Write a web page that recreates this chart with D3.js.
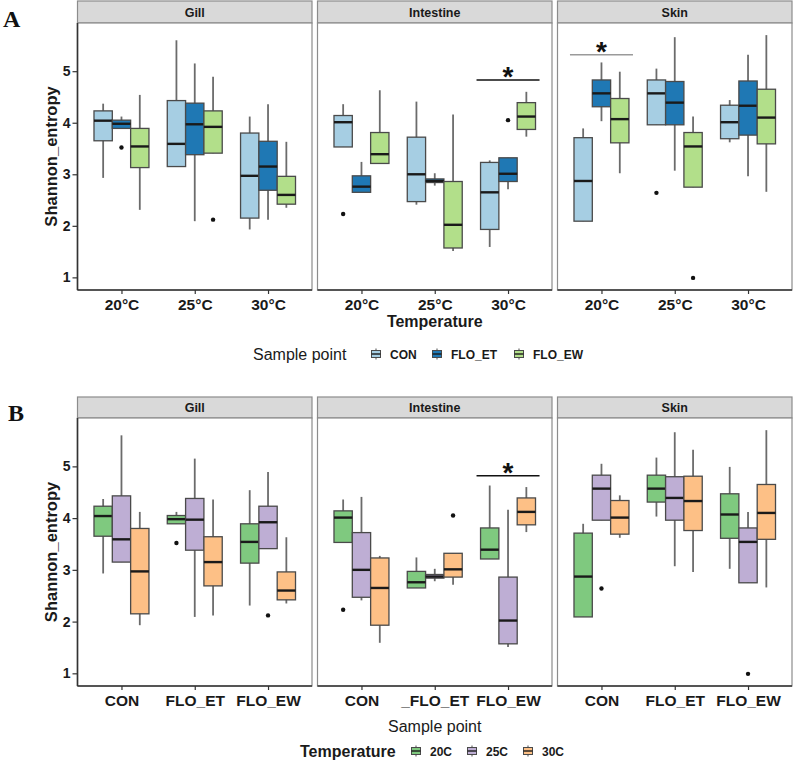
<!DOCTYPE html>
<html>
<head>
<meta charset="utf-8">
<script src="https://cdn.jsdelivr.net/npm/d3@7"></script>
<style>
body { margin: 0; background: #fff; }
svg { display: block; font-family: "Liberation Sans", Arial, sans-serif; }
</style>
</head>
<body>
<div id="chart"></div>
<script>
var tissues = ["Gill", "Intestine", "Skin"];
var temps = ["20°C", "25°C", "30°C"];
var tempKeys = ["20C", "25C", "30C"];
var samples = ["CON", "FLO_ET", "FLO_EW"];
var sampleTicksB = [["CON", "FLO_ET", "FLO_EW"], ["CON", "_FLO_ET", "FLO_EW"], ["CON", "FLO_ET", "FLO_EW"]];
var yTicks = [1, 2, 3, 4, 5];

// [lower whisker, Q1, median, Q3, upper whisker], indexed [temperature][sample point]
var gillStats = [
  [[2.93, 3.65, 4.04, 4.23, 4.37], [3.89, 3.89, 3.98, 4.05, 4.12], [2.31, 3.13, 3.54, 3.89, 4.54]],
  [[3.15, 3.15, 3.59, 4.43, 5.60], [2.09, 3.38, 3.97, 4.38, 5.15], [3.41, 3.41, 3.92, 4.23, 4.89]],
  [[1.93, 2.15, 2.97, 3.80, 4.12], [2.12, 2.69, 3.15, 3.64, 4.36], [2.35, 2.42, 2.60, 2.96, 3.63]]
];
var intestineStats = [
  [[3.53, 3.53, 4.01, 4.14, 4.36], [2.65, 2.65, 2.76, 2.97, 3.24], [3.21, 3.21, 3.39, 3.81, 4.63]],
  [[2.41, 2.47, 3.00, 3.72, 4.41], [2.78, 2.84, 2.87, 2.91, 3.02], [1.51, 1.57, 2.02, 2.86, 4.16]],
  [[1.59, 1.93, 2.65, 3.23, 3.27], [2.71, 2.86, 3.01, 3.32, 3.32], [3.73, 3.87, 4.12, 4.39, 4.60]]
];
var skinStats = [
  [[2.09, 2.09, 2.87, 3.71, 3.89], [4.03, 4.31, 4.57, 4.83, 5.17], [3.02, 3.61, 4.07, 4.47, 4.99]],
  [[3.96, 3.96, 4.57, 4.83, 5.05], [3.07, 3.96, 4.39, 4.80, 5.66], [2.75, 2.75, 3.54, 3.81, 4.12]],
  [[3.62, 3.69, 4.01, 4.34, 4.44], [2.96, 3.76, 4.33, 4.81, 5.32], [2.66, 3.59, 4.10, 4.65, 5.70]]
];
var allStats = [gillStats, intestineStats, skinStats];

// outliers: [temperature index, sample index, value]
var gillOutliers = [[0, 1, 3.52], [1, 2, 2.12]];
var intestineOutliers = [[0, 0, 2.23], [2, 1, 4.05]];
var skinOutliers = [[1, 0, 2.64], [1, 2, 0.99]];
var allOutliers = [gillOutliers, intestineOutliers, skinOutliers];

// significance bars: tissue index, category index on x, height
var sigA = [{ tissue: 1, cat: 2, value: 4.83, color: "#111" }, { tissue: 2, cat: 0, value: 5.32, color: "#9a9a9a" }];
var sigB = [{ tissue: 1, cat: 2, value: 4.82, color: "#111" }];

var sampleColors = ["#a6cee3", "#1f78b4", "#b2df8a"];
var tempColors = ["#7fc97f", "#beaed4", "#fdc086"];

var width = 796, height = 764;
var panelLeft = 77.5, panelW = 234.5, panelGap = 5.5;

var svg = d3.select("#chart").append("svg")
  .attr("width", width)
  .attr("height", height);

function drawRow(opt) {
  var y = d3.scaleLinear().domain([0.755, 5.935]).range([opt.bottom, opt.top]);

  tissues.forEach(function(tissue, t) {
    var left = panelLeft + t * (panelW + panelGap);
    var g = svg.append("g").attr("transform", "translate(" + left + ",0)");
    var x = d3.scalePoint().domain([0, 1, 2]).range([0, panelW]).padding(0.6);
    var step = x.step();
    var inner = d3.scaleBand().domain([0, 1, 2]).range([-0.375 * step, 0.375 * step]);
    var bw = inner.bandwidth();

    // strip
    g.append("rect")
      .attr("x", 0).attr("y", opt.stripTop)
      .attr("width", panelW).attr("height", opt.top - opt.stripTop)
      .attr("fill", "#d9d9d9").attr("stroke", "#8c8c8c").attr("stroke-width", 1.2);
    g.append("text")
      .attr("x", panelW / 2).attr("y", (opt.stripTop + opt.top) / 2 + 4.5)
      .attr("text-anchor", "middle")
      .attr("font-size", 12.5).attr("font-weight", "bold").attr("fill", "#1a1a1a")
      .text(tissue);

    // panel
    g.append("rect")
      .attr("x", 0).attr("y", opt.top)
      .attr("width", panelW).attr("height", opt.bottom - opt.top)
      .attr("fill", "#fff").attr("stroke", "#8c8c8c").attr("stroke-width", 1.2);

    var boxes = [];
    [0, 1, 2].forEach(function(xi) {
      [0, 1, 2].forEach(function(gi) {
        boxes.push({ xi: xi, gi: gi, s: opt.stat(t, xi, gi) });
      });
    });

    var bg = g.selectAll(".box")
      .data(boxes)
      .enter().append("g")
      .attr("class", "box")
      .attr("transform", function(d) { return "translate(" + (x(d.xi) + inner(d.gi)) + ",0)"; });

    bg.append("line")
      .attr("x1", bw / 2).attr("x2", bw / 2)
      .attr("y1", function(d) { return y(d.s[0]); })
      .attr("y2", function(d) { return y(d.s[4]); })
      .attr("stroke", "#6b6b6b").attr("stroke-width", 1.8);
    bg.append("rect")
      .attr("x", 0).attr("width", bw)
      .attr("y", function(d) { return y(d.s[3]); })
      .attr("height", function(d) { return y(d.s[1]) - y(d.s[3]); })
      .attr("fill", function(d) { return opt.colors[d.gi]; })
      .attr("stroke", "#4a4a4a").attr("stroke-width", 1.3);
    bg.append("line")
      .attr("x1", 0).attr("x2", bw)
      .attr("y1", function(d) { return y(d.s[2]); })
      .attr("y2", function(d) { return y(d.s[2]); })
      .attr("stroke", "#1a1a1a").attr("stroke-width", 2.4);

    // outliers
    g.selectAll(".out")
      .data(allOutliers[t])
      .enter().append("circle")
      .attr("class", "out")
      .attr("cx", function(d) {
        var xi = opt.byTemp ? d[0] : d[1];
        var gi = opt.byTemp ? d[1] : d[0];
        return x(xi) + inner(gi) + bw / 2;
      })
      .attr("cy", function(d) { return y(d[2]); })
      .attr("r", 2.2)
      .attr("fill", "#111");

    // x axis
    var xa = g.append("g")
      .attr("transform", "translate(0," + opt.bottom + ")")
      .call(d3.axisBottom(x).tickSize(4).tickPadding(5)
        .tickFormat(function(i) { return opt.xLabels[t][i]; }));
    xa.select(".domain").remove();
    xa.selectAll(".tick line").attr("stroke", "#333").attr("stroke-width", 1.2);
    xa.selectAll(".tick text")
      .attr("font-size", 15.5).attr("font-weight", "bold").attr("fill", "#1a1a1a")
      .attr("font-family", "Liberation Sans, Arial, sans-serif");
    g.append("line")
      .attr("x1", 0).attr("x2", panelW)
      .attr("y1", opt.bottom).attr("y2", opt.bottom)
      .attr("stroke", "#333").attr("stroke-width", 1.6);

    if (t === 0) {
      var ya = g.append("g")
        .call(d3.axisLeft(y).tickValues(yTicks).tickSize(5).tickPadding(2).tickFormat(d3.format("d")));
      ya.select(".domain").remove();
      ya.selectAll(".tick line").attr("stroke", "#333").attr("stroke-width", 1.2);
      ya.selectAll(".tick text")
        .attr("font-size", 14).attr("font-weight", "bold").attr("fill", "#1a1a1a")
        .attr("font-family", "Liberation Sans, Arial, sans-serif");
      g.append("line")
        .attr("x1", 0).attr("x2", 0)
        .attr("y1", opt.top).attr("y2", opt.bottom)
        .attr("stroke", "#333").attr("stroke-width", 1.6);
    }

    // significance
    opt.sig.filter(function(s) { return s.tissue === t; }).forEach(function(s) {
      var cx = x(s.cat), half = 0.43 * step;
      g.append("line")
        .attr("x1", cx - half).attr("x2", cx + half)
        .attr("y1", y(s.value)).attr("y2", y(s.value))
        .attr("stroke", s.color).attr("stroke-width", 1.6);
      g.append("text")
        .attr("x", cx).attr("y", y(s.value) + 6)
        .attr("text-anchor", "middle")
        .attr("font-size", 28).attr("font-weight", "bold").attr("fill", "#111")
        .text("*");
    });
  });

  // y title
  svg.append("text")
    .attr("transform", "translate(57," + ((opt.top + opt.bottom) / 2) + ") rotate(-90)")
    .attr("text-anchor", "middle")
    .attr("font-size", 16.5).attr("font-weight", "bold").attr("fill", "#1a1a1a")
    .text("Shannon_entropy");

  // x title
  svg.append("text")
    .attr("x", panelLeft + 1.5 * panelW + panelGap)
    .attr("y", opt.xTitleY)
    .attr("text-anchor", "middle")
    .attr("font-size", 16).attr("font-weight", opt.xTitleBold ? "bold" : "normal").attr("fill", "#1a1a1a")
    .text(opt.xTitle);

  // panel letter
  svg.append("text")
    .attr("x", opt.letterX).attr("y", opt.letterY)
    .attr("font-family", "Liberation Serif, Times New Roman, serif")
    .attr("font-size", 24).attr("font-weight", "bold").attr("fill", "#111")
    .text(opt.letter);

  // legend
  var lg = svg.append("g").attr("transform", "translate(0," + opt.legendY + ")");
  lg.append("text")
    .attr("x", opt.legendX).attr("y", 5.5)
    .attr("font-size", 16).attr("font-weight", opt.legendBold ? "bold" : "normal").attr("fill", "#1a1a1a")
    .text(opt.legendTitle);
  var items = lg.selectAll(".item")
    .data(opt.legendItems)
    .enter().append("g")
    .attr("class", "item")
    .attr("transform", function(d, i) { return "translate(" + opt.legendKeyX[i] + ",0)"; });
  items.append("line")
    .attr("x1", 0).attr("x2", 0).attr("y1", -5.5).attr("y2", 5.5)
    .attr("stroke", "#6b6b6b").attr("stroke-width", 1.2);
  items.append("rect")
    .attr("x", -4.5).attr("y", -3.5).attr("width", 9).attr("height", 7)
    .attr("fill", function(d, i) { return opt.colors[i]; })
    .attr("stroke", "#4a4a4a").attr("stroke-width", 1);
  items.append("line")
    .attr("x1", -4.5).attr("x2", 4.5).attr("y1", 0).attr("y2", 0)
    .attr("stroke", "#1a1a1a").attr("stroke-width", 1.4);
  items.append("text")
    .attr("x", 14).attr("y", 4.5)
    .attr("font-size", 12).attr("font-weight", "bold").attr("fill", "#1a1a1a")
    .text(function(d) { return d; });
}

drawRow({
  stripTop: 1, top: 23, bottom: 290,
  byTemp: true,
  colors: sampleColors,
  stat: function(t, xi, gi) { return allStats[t][xi][gi]; },
  xLabels: [temps, temps, temps],
  sig: sigA,
  xTitle: "Temperature", xTitleY: 327, xTitleBold: true,
  letter: "A", letterX: 3, letterY: 27,
  legendTitle: "Sample point", legendBold: false, legendX: 253, legendY: 354,
  legendItems: samples, legendKeyX: [376, 437, 519]
});

drawRow({
  stripTop: 397, top: 418, bottom: 686,
  byTemp: false,
  colors: tempColors,
  stat: function(t, xi, gi) { return allStats[t][gi][xi]; },
  xLabels: sampleTicksB,
  sig: sigB,
  xTitle: "Sample point", xTitleY: 732, xTitleBold: false,
  letter: "B", letterX: 8, letterY: 421,
  legendTitle: "Temperature", legendBold: true, legendX: 300, legendY: 751,
  legendItems: tempKeys, legendKeyX: [416, 472, 528]
});
</script>
</body>
</html>
